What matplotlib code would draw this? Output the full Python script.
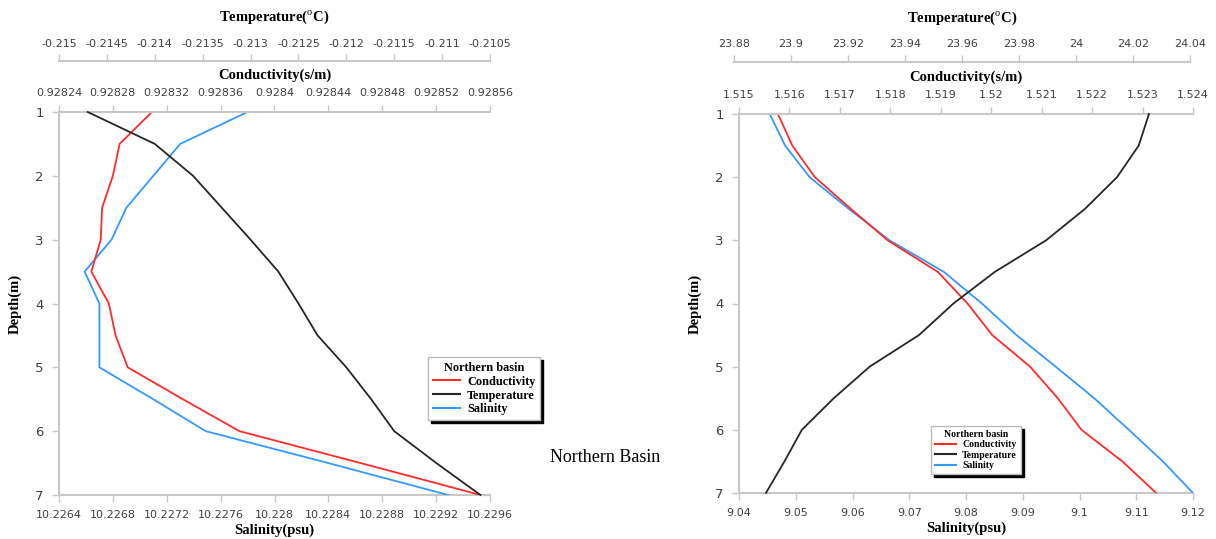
import numpy as np
import matplotlib.pyplot as plt

plt.rcParams['mathtext.fontset'] = 'custom'
plt.rcParams['mathtext.rm'] = 'Liberation Serif'
plt.rcParams['mathtext.bf'] = 'Liberation Serif:bold'

depth = [1, 1.5, 2, 2.5, 3, 3.5, 4, 4.5, 5, 5.5, 6, 6.5, 7]

# left panel
temp_l = [-0.2147, -0.2140, -0.2136, -0.2133, -0.2130, -0.21271, -0.2125,
          -0.2123, -0.2120, -0.21174, -0.2115, -0.21106, -0.2106]
cond_l = [0.928309, 0.928285, 0.928280, 0.928272, 0.928271, 0.928264, 0.928277,
          0.928282, 0.928291, 0.928332, 0.928374, 0.928464, 0.928553]
sal_l = [10.227799, 10.22730, 10.22710, 10.22690, 10.22679, 10.22659, 10.22670,
         10.22670, 10.22670, 10.22710, 10.22749, 10.22840, 10.22929]

# right panel
temp_r = [24.0256, 24.0220, 24.0144, 24.0032, 23.9895, 23.9715, 23.9570,
          23.9449, 23.9276, 23.9150, 23.9038, 23.8977, 23.8912]
cond_r = [1.515772, 1.516057, 1.516504, 1.517215, 1.517947, 1.518943, 1.51953,
          1.52002, 1.52077, 1.52132, 1.52179, 1.52260, 1.52327]
sal_r = [9.04542, 9.04812, 9.05245, 9.05931, 9.06653, 9.07610, 9.08280,
         9.08890, 9.09580, 9.10260, 9.10870, 9.11470, 9.12000]

temp_ticks_l = [-0.215, -0.2145, -0.214, -0.2135, -0.213, -0.2125, -0.212, -0.2115, -0.211, -0.2105]
cond_ticks_l = [0.92824, 0.92828, 0.92832, 0.92836, 0.9284, 0.92844, 0.92848, 0.92852, 0.92856]
sal_ticks_l = [10.2264, 10.2268, 10.2272, 10.2276, 10.228, 10.2284, 10.2288, 10.2292, 10.2296]
temp_ticks_r = [23.88, 23.9, 23.92, 23.94, 23.96, 23.98, 24, 24.02, 24.04]
cond_ticks_r = [1.515, 1.516, 1.517, 1.518, 1.519, 1.52, 1.521, 1.522, 1.523, 1.524]
sal_ticks_r = [9.04, 9.05, 9.06, 9.07, 9.08, 9.09, 9.1, 9.11, 9.12]

RED = '#ff2b2b'
BLACK = '#262626'
BLUE = '#3399ff'
GREY = '#c8c8c8'
TXT = '#404040'
SERIF = 'Liberation Serif'

W, H = 1216, 539
fig = plt.figure(figsize=(W / 100, H / 100), dpi=100)


def fmt(v):
    return ('%.6f' % v).rstrip('0').rstrip('.')


def style_ticks(a, which, pad):
    a.tick_params(axis=which, colors=GREY, labelcolor=TXT, labelsize=8, length=5, width=1, pad=pad)


def panel(x0, x1, y0, y1, tx0, tx1, ty, sal, cond, temp, st, ct, tt, leg_box, leg_fs):
    rect = [x0 / W, 1 - y1 / H, (x1 - x0) / W, (y1 - y0) / H]
    ax = fig.add_axes(rect)
    ax.plot(sal, depth, color=BLUE, lw=1.3, zorder=3)
    ax.set_xlim(st[0], st[-1])
    ax.set_ylim(7, 1)
    ax.set_xticks(st)
    ax.set_xticklabels([fmt(v) for v in st])
    ax.set_yticks(range(1, 8))
    for s in ['right', 'top']:
        ax.spines[s].set_visible(False)
    for s in ['left', 'bottom']:
        ax.spines[s].set_color(GREY)
        ax.spines[s].set_linewidth(1.5)
    style_ticks(ax, 'x', 6)
    style_ticks(ax, 'y', 6)
    ax.tick_params(axis='y', labelsize=9.5)
    ax.set_xlabel('Salinity(psu)', family=SERIF, weight='bold', fontsize=10.5, labelpad=2.5)
    ax.set_ylabel('Depth(m)', family=SERIF, weight='bold', fontsize=10.5, labelpad=10)

    axc = ax.twiny()
    axc.plot(cond, depth, color=RED, lw=1.3)
    axc.set_xlim(ct[0], ct[-1])
    axc.set_xticks(ct)
    axc.set_xticklabels([fmt(v) for v in ct])
    for s in ['right', 'left', 'bottom']:
        axc.spines[s].set_visible(False)
    axc.spines['top'].set_color(GREY)
    axc.spines['top'].set_linewidth(1.5)
    style_ticks(axc, 'x', 5)
    axc.set_xlabel('Conductivity(s/m)', family=SERIF, weight='bold', fontsize=10.5, labelpad=7)

    trect = [tx0 / W, 1 - y1 / H, (tx1 - tx0) / W, (y1 - y0) / H]
    axt = fig.add_axes(trect)
    axt.patch.set_visible(False)
    axt.plot(temp, depth, color=BLACK, lw=1.3, clip_on=False)
    axt.set_xlim(tt[0], tt[-1])
    axt.set_ylim(7, 1)
    axt.set_yticks([])
    axt.xaxis.set_ticks_position('top')
    axt.xaxis.set_label_position('top')
    axt.set_xticks(tt)
    axt.set_xticklabels([fmt(v) for v in tt])
    for s in ['right', 'left', 'bottom']:
        axt.spines[s].set_visible(False)
    axt.spines['top'].set_position(('outward', (y0 - ty) * 0.72))
    axt.spines['top'].set_color(GREY)
    axt.spines['top'].set_linewidth(1.5)
    style_ticks(axt, 'x', 4)
    axt.set_xlabel(r'Temperature($^{\mathrm{o}}$C)', family=SERIF, weight='bold', fontsize=10.5, labelpad=13)

    handles = [plt.Line2D([], [], color=RED, lw=1.5),
               plt.Line2D([], [], color=BLACK, lw=1.5),
               plt.Line2D([], [], color=BLUE, lw=1.5)]
    leg = fig.legend(handles, ['Conductivity', 'Temperature', 'Salinity'],
                     title='Northern basin', loc='upper left',
                     bbox_to_anchor=(leg_box[0] / W, 1 - leg_box[1] / H),
                     prop={'family': SERIF, 'weight': 'bold', 'size': leg_fs},
                     title_fontproperties={'family': SERIF, 'weight': 'bold', 'size': leg_fs},
                     frameon=True, fancybox=False, shadow={'color': 'black', 'alpha': 1},
                     handlelength=2.2, handletextpad=0.6, labelspacing=0.15,
                     borderpad=0.4, borderaxespad=0)
    leg.get_frame().set_edgecolor('#bbbbbb')
    leg.get_frame().set_linewidth(1)
    return ax


panel(59, 490, 112, 495, 59, 490, 61, sal_l, cond_l, temp_l,
      sal_ticks_l, cond_ticks_l, temp_ticks_l, (428, 357), 8.8)
panel(739, 1193, 114, 493, 734, 1190, 62, sal_r, cond_r, temp_r,
      sal_ticks_r, cond_ticks_r, temp_ticks_r, (931, 426), 7)

fig.text(550 / W, 1 - 457 / H, 'Northern Basin', family=SERIF, fontsize=13, va='center', ha='left')

fig.savefig('out.png', dpi=100)
